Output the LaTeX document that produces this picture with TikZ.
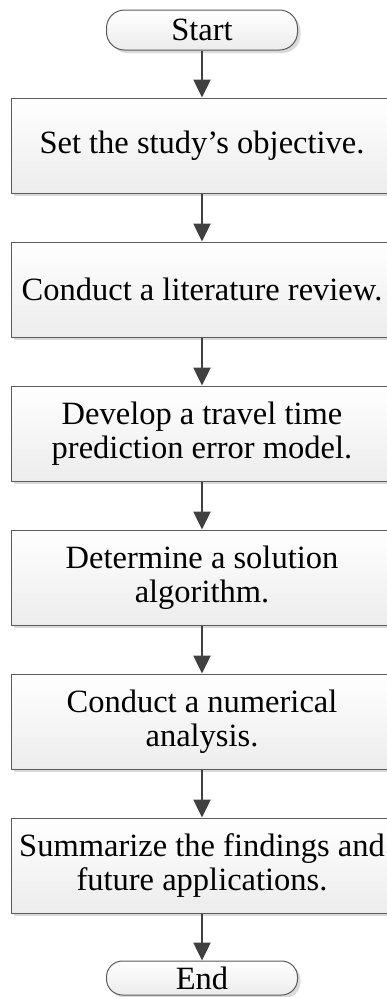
\documentclass[tikz,border=0pt]{standalone}
\usepackage{fontspec}
\setmainfont{Liberation Serif}
\usetikzlibrary{arrows.meta,shadows}
\definecolor{arrgray}{HTML}{404040}
\definecolor{edgegray}{HTML}{5A5A5A}
\definecolor{shadgray}{HTML}{DADADA}
\definecolor{botgray}{HTML}{ECECEC}
\tikzset{
  base/.style={draw=edgegray, line width=1pt, top color=white, bottom color=botgray,
    drop shadow={shadow xshift=3pt, shadow yshift=-3pt, fill=shadgray, opacity=1},
    font=\fontsize{32.5}{34}\selectfont, align=center, inner sep=0pt, text=black},
  stepbox/.style={base, rectangle, minimum width=382pt, minimum height=95pt},
  term/.style={base, rectangle, rounded corners=18pt, minimum width=191pt},
  arr/.style={draw=arrgray, line width=2.5pt, -{Triangle[length=18pt,width=17pt]}, fill=arrgray}
}
\begin{document}
\begin{tikzpicture}[x=1pt,y=-1pt]
\useasboundingbox (0,0) rectangle (387,997);
\node[term, minimum height=40pt] (start) at (202,30) {Start};
\node[stepbox] (b1) at (202,145.5) {Set the study’s objective.};
\node[stepbox] (b2) at (202,289.5) {Conduct a literature review.};
\node[stepbox] (b3) at (202,433.5) {Develop a travel time\\prediction error model.};
\node[stepbox] (b4) at (202,577.5) {Determine a solution\\algorithm.};
\node[stepbox] (b5) at (202,721.5) {Conduct a numerical\\analysis.};
\node[stepbox] (b6) at (202,865.5) {Summarize the findings and\\future applications.};
\node[term, minimum height=34pt, rounded corners=16pt] (end) at (202,978) {End};
\draw[arr] (start) -- (b1);
\draw[arr] (b1) -- (b2);
\draw[arr] (b2) -- (b3);
\draw[arr] (b3) -- (b4);
\draw[arr] (b4) -- (b5);
\draw[arr] (b5) -- (b6);
\draw[arr] (b6) -- (end);
\end{tikzpicture}
\end{document}
